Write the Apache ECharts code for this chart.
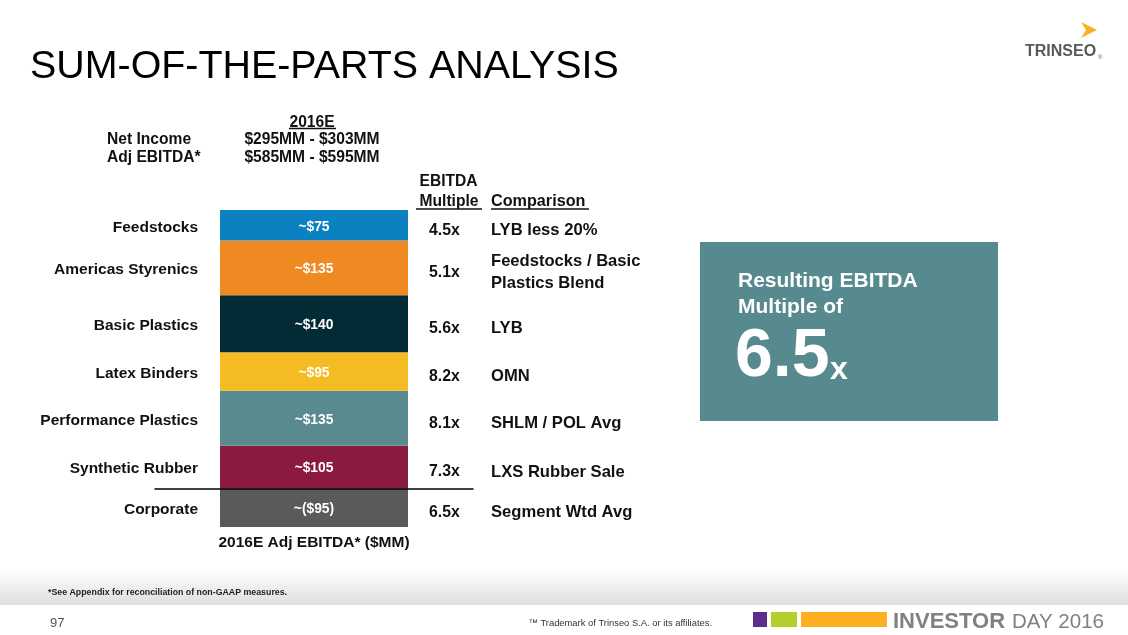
<!DOCTYPE html>
<html><head><meta charset="utf-8">
<script src="https://cdn.jsdelivr.net/npm/echarts@6/dist/echarts.min.js"></script>
<style>html,body{margin:0;padding:0;background:#fff}#c{width:1128px;height:635px}</style>
</head><body><div id="c"></div>
<script>
// ---- data ----
const categories = ['Feedstocks','Americas Styrenics','Basic Plastics','Latex Binders','Performance Plastics','Synthetic Rubber','Corporate'];
const values = [75, 135, 140, 95, 135, 105, -95];
const multiples = ['4.5x','5.1x','5.6x','8.2x','8.1x','7.3x','6.5x'];
const comparisons = ['LYB less 20%','Feedstocks / Basic\nPlastics Blend','LYB','OMN','SHLM / POL Avg','LXS Rubber Sale','Segment Wtd Avg'];
const axisCategory = ['2016E Adj EBITDA* ($MM)'];
const headerRows = ['Net Income','Adj EBITDA*'];
const headerRanges = ['$295MM - $303MM','$585MM - $595MM'];
const resultMultiple = '6.5';

// ---- styling ----
const colors = ['#0b81c1','#ef8a23','#032b36','#f4bb23','#588a8f','#8a1b3f','#5a5a5a'];
const FONT = '"Liberation Sans", Arial, sans-serif';
const yMin = -95, yMax = 685;
const rect = {left:220, top:210, width:188, height:317};
const stackOrder = [5,4,3,2,1,0,6]; // bottom segment first

function fmtValue(v){ return v < 0 ? '~($' + (-v) + ')' : '~$' + v; }

function layer(g, labelFn, colored){
  return stackOrder.map(i => ({
    type:'bar', xAxisIndex:g, yAxisIndex:g, stack:'s'+g, barWidth:'100%',
    data:[values[i]], silent:true,
    itemStyle:{color: colored ? colors[i] : 'rgba(0,0,0,0)'},
    label: labelFn(i)
  }));
}

const grids = [0,1,2,3].map(() => Object.assign({}, rect));
grids.push({left:155, top:210, width:318, height:317});

const xAxes = grids.map((g, k) => ({
  gridIndex:k, type:'category', data: k === 0 ? axisCategory : [''],
  axisLine:{show: k === 4, onZero: k === 4, lineStyle:{color:'#000', width:1.5}},
  axisTick:{show:false},
  axisLabel:{show: k === 0, margin:8, color:'#111', fontWeight:'bold', fontSize:15.5, fontFamily:FONT},
  z: k === 4 ? 10 : 0
}));
const yAxes = grids.map((g, k) => ({gridIndex:k, type:'value', min:yMin, max:yMax, show:false}));

const txtBase = {color:'#111', fontWeight:'bold', fontSize:15.8, fontFamily:FONT};

const series = [].concat(
  layer(0, i => ({show:true, position:'inside', offset:[0,1.5], formatter: fmtValue(values[i]), color:'#fff', fontWeight:'bold', fontSize:13.8, fontFamily:FONT}), true),
  layer(1, i => Object.assign({show:true, position:'left', distance:22, offset:[0,2], formatter: categories[i]}, txtBase, {fontSize:15.5})),
  layer(2, i => Object.assign({show:true, position:'right', distance:21, offset:[0,5], formatter: multiples[i]}, txtBase)),
  layer(3, i => Object.assign({show:true, position:'right', distance:83, offset:[0,5], lineHeight:22, formatter: comparisons[i]}, txtBase, {fontSize:16.6}))
);

function T(text, x, y, font, fill, align){
  return {type:'text', z:100, style:{text, x, y: y + 1, font, fill: fill || '#111', align: align || 'left', verticalAlign:'middle'}};
}
function L(x1, y1, x2, color, w){
  return {type:'line', z:100, shape:{x1, y1, x2, y2:y1}, style:{stroke: color || '#111', lineWidth: w || 1.3}};
}
function R(x, y, w, h, fill){
  return {type:'rect', z:90, shape:{x, y, width:w, height:h}, style:{fill}};
}
const B = 'bold 15.6px ' + FONT;

const graphic = [
  // footer band
  {type:'rect', z:1, shape:{x:0, y:570, width:1128, height:35},
   style:{fill:{type:'linear', x:0, y:0, x2:0, y2:1, colorStops:[{offset:0, color:'#ffffff'},{offset:1, color:'#dedede'}]}}},
  T('SUM-OF-THE-PARTS ANALYSIS', 30, 66, '39.4px ' + FONT, '#000'),
  // logo
  {type:'polygon', z:100, shape:{points:[[1081,22],[1097,30],[1081,38],[1086,30]]}, style:{fill:'#f5b320'}},
  T('TRINSEO', 1025, 51, 'bold 16px ' + FONT, '#58595b'),
  T('®', 1098, 56, '6px ' + FONT, '#58595b'),
  // header
  T('2016E', 312, 122, B, '#111', 'center'),
  L(289, 128.5, 336),
  T(headerRows[0], 107, 139, B), T(headerRows[1], 107, 157, B),
  T(headerRanges[0], 312, 139, B, '#111', 'center'), T(headerRanges[1], 312, 157, B, '#111', 'center'),
  T('EBITDA', 448.5, 180.5, B, '#111', 'center'),
  T('Multiple', 449, 201, B, '#111', 'center'),
  L(416, 209, 482),
  T('Comparison', 491, 201, 'bold 16.2px ' + FONT),
  L(491, 209, 589),
  // result box
  R(700, 242, 298, 179, '#578a8f'),
  T('Resulting EBITDA', 738, 280, 'bold 21px ' + FONT, '#fff'),
  T('Multiple of', 738, 306, 'bold 21px ' + FONT, '#fff'),
  T(resultMultiple, 735, 356, 'bold 68px ' + FONT, '#fff'),
  T('x', 830, 369, 'bold 32px ' + FONT, '#fff'),
  // footer
  T('*See Appendix for reconciliation of non-GAAP measures.', 48, 592, 'bold 8.8px ' + FONT, '#222'),
  T('97', 50, 622, '13px ' + FONT, '#555'),
  T('™ Trademark of Trinseo S.A. or its affiliates.', 712, 622, '9.4px ' + FONT, '#333', 'right'),
  R(753, 612, 14, 15, '#5b2d8c'),
  R(771, 612, 26, 15, '#b3cf2a'),
  R(801, 612, 86, 15, '#fcb021'),
  T('INVESTOR', 893, 621, 'bold 22px ' + FONT, '#808080'),
  T('DAY 2016', 1012, 621, '20.5px ' + FONT, '#808080')
];

const chart = echarts.init(document.getElementById('c'), null, {renderer:'canvas'});
chart.setOption({
  animation:false,
  backgroundColor:'#ffffff',
  grid: grids,
  xAxis: xAxes,
  yAxis: yAxes,
  series,
  graphic
});
</script>
</body></html>
